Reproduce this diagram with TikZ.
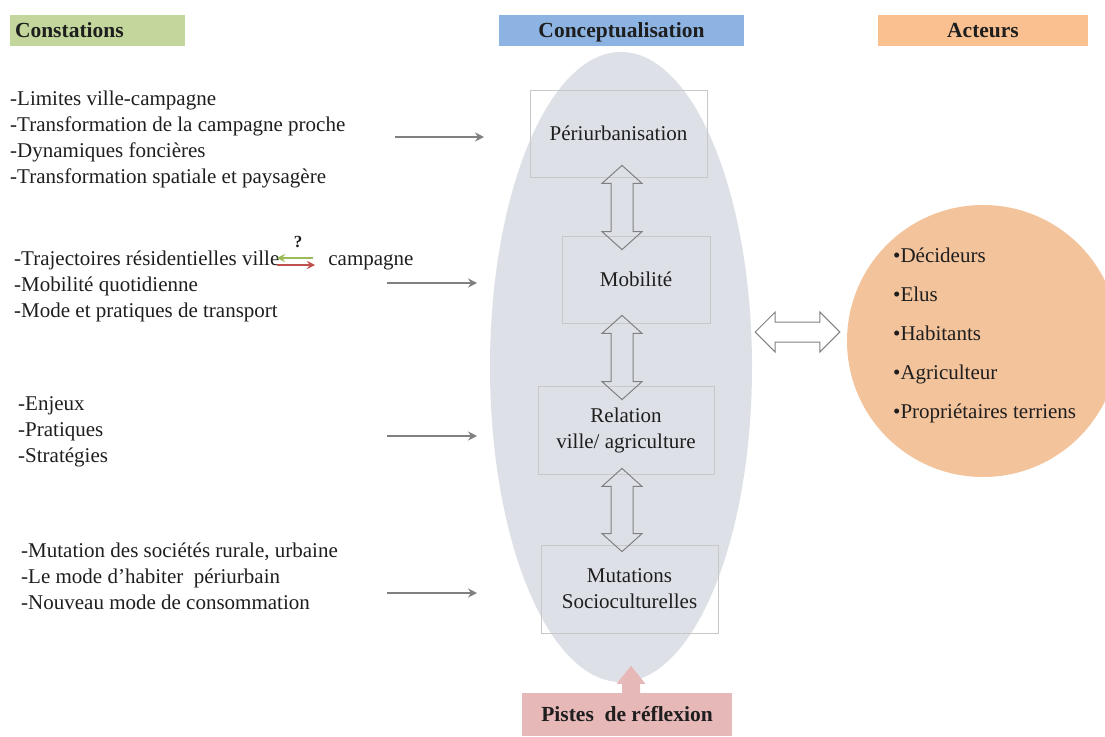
\documentclass[tikz,border=0pt]{standalone}
\usepackage{fontspec}
\setmainfont{Liberation Serif}
\usetikzlibrary{calc,arrows.meta,shapes.geometric}

\definecolor{hdrgreen}{HTML}{C3D69B}
\definecolor{hdrblue}{HTML}{8DB3E2}
\definecolor{hdrorange}{HTML}{FAC08F}
\definecolor{actfill}{HTML}{F3C39C}
\definecolor{ellfill}{HTML}{DDE1E7}
\definecolor{pistesfill}{HTML}{E6B8B7}
\definecolor{boxgrey}{HTML}{C8C8C8}
\definecolor{arrowgrey}{HTML}{808080}
\definecolor{inkc}{HTML}{1E1E1E}
\definecolor{lightgreen}{HTML}{9BBB59}
\definecolor{lightred}{HTML}{C0504D}

% hollow two-headed block arrow, vertical, between two coordinates (top, bottom)
\newcommand{\vblockarrow}[2]{%
  \draw[blockarrow] let \p1=(#1), \p2=(#2) in
    (\x1,\y1) -- (\x1+20pt,\y1-18pt) -- (\x1+11pt,\y1-18pt)
    -- (\x1+11pt,\y2+18pt) -- (\x1+20pt,\y2+18pt) -- (\x1,\y2)
    -- (\x1-20pt,\y2+18pt) -- (\x1-11pt,\y2+18pt)
    -- (\x1-11pt,\y1-18pt) -- (\x1-20pt,\y1-18pt) -- cycle;}
% hollow two-headed block arrow, horizontal, between two coordinates (left, right)
\newcommand{\hblockarrow}[2]{%
  \draw[blockarrow, fill=white] let \p1=(#1), \p2=(#2) in
    (\x1,\y1) -- (\x1+20pt,\y1+20pt) -- (\x1+20pt,\y1+10pt)
    -- (\x2-20pt,\y1+10pt) -- (\x2-20pt,\y1+20pt) -- (\x2,\y1)
    -- (\x2-20pt,\y1-20pt) -- (\x2-20pt,\y1-10pt)
    -- (\x1+20pt,\y1-10pt) -- (\x1+20pt,\y1-20pt) -- cycle;}

\begin{document}
\begin{tikzpicture}[x=1pt,y=-1pt,
  txt/.style={font=\fontsize{21}{26}\selectfont, text=inkc, inner sep=0pt},
  header/.style={font=\fontsize{21.5}{24}\selectfont\bfseries, text=inkc,
    minimum height=31pt, inner sep=0pt, text height=15pt, text depth=2pt},
  conceptbox/.style={draw=boxgrey, line width=0.8pt, txt, align=center},
  linkarrow/.style={draw=arrowgrey, line width=2.2pt, -{Stealth[length=9pt,width=9pt]}},
  smallarrow/.style={line width=2.2pt, -{Stealth[length=8pt,width=8pt]}},
  blockarrow/.style={draw=arrowgrey, line width=1pt, line join=miter},
]
\useasboundingbox (0,0) rectangle (1105,736);

% column headers
\node[header, fill=hdrgreen, minimum width=175pt, text width=165pt, align=left]
  (hconst) at (97.5,30.5) {Constations};
\node[header, fill=hdrblue, minimum width=245pt] (hconcept) at (621.5,30.5) {Conceptualisation};
\node[header, fill=hdrorange, minimum width=210pt] (hact) at (983,30.5) {Acteurs};

% conceptual frame
\node[ellipse, fill=ellfill, minimum width=262pt, minimum height=630pt, inner sep=0pt]
  (concept) at (621,367) {};

\node[conceptbox, minimum width=177pt, minimum height=87pt] (peri) at (618.5,133.5) {Périurbanisation};
\node[conceptbox, minimum width=148pt, minimum height=87pt] (mob) at (636,279.5) {Mobilité};
\node[conceptbox, minimum width=176pt, minimum height=88pt] (rel) at (626,430) {Relation\\ville/ agriculture};
\node[conceptbox, minimum width=177pt, minimum height=88pt] (mut) at (629.5,589) {Mutations\\Socioculturelles};

\coordinate (a1t) at ($(peri.south -| concept.center)+(1,-12)$);
\coordinate (a1b) at ($(mob.north -| concept.center)+(1,14)$);
\coordinate (a2t) at ($(mob.south -| concept.center)+(1,-8)$);
\coordinate (a2b) at ($(rel.north -| concept.center)+(1,14)$);
\coordinate (a3t) at ($(rel.south -| concept.center)+(1,-6)$);
\coordinate (a3b) at ($(mut.north -| concept.center)+(1,7)$);
\vblockarrow{a1t}{a1b}
\vblockarrow{a2t}{a2b}
\vblockarrow{a3t}{a3b}

% actors
\node[circle, fill=actfill, minimum size=272pt, inner sep=0pt] (actors) at (983,341) {};
\node[txt, font=\fontsize{21}{39}\selectfont, align=left, anchor=west] (actlist) at (893,335)
  {•Décideurs\\•Elus\\•Habitants\\•Agriculteur\\•Propriétaires terriens};

\coordinate (hl) at ($(concept.east)+(3,-35)$);
\coordinate (hr) at ($(actors.west)+(-7,-9)$);
\hblockarrow{hl}{hr}

% observations
\node[txt, align=left, anchor=west] (c1) at (10,139)
  {-Limites ville-campagne\\-Transformation de la campagne proche\\-Dynamiques foncières\\-Transformation spatiale et paysagère};
\node[txt, align=left, anchor=west] (c2) at (14,286)
  {-Trajectoires résidentielles ville\hspace*{49pt}campagne\\-Mobilité quotidienne\\-Mode et pratiques de transport};
\node[txt, align=left, anchor=west] (c3) at (18,432)
  {-Enjeux\\-Pratiques\\-Stratégies};
\node[txt, align=left, anchor=west] (c4) at (21,576)
  {-Mutation des sociétés rurale, urbaine\\-Le mode d’habiter\ \ périurbain\\-Nouveau mode de consommation};

% ville <-> campagne
\coordinate (vc1) at (313,258);
\coordinate (vc2) at (277,258);
\coordinate (vc3) at (277,265);
\coordinate (vc4) at (315,265);
\draw[smallarrow, lightgreen] (vc1) -- (vc2);
\draw[smallarrow, lightred] (vc3) -- (vc4);
\node[txt, font=\fontsize{17}{18}\selectfont\bfseries] (qmark) at (298,242) {?};

% links to the concepts
\coordinate (l1s) at (395,137); \coordinate (l1e) at (484,137);
\coordinate (l2s) at (387,283); \coordinate (l2e) at (477,283);
\coordinate (l3s) at (387,436); \coordinate (l3e) at (477,436);
\coordinate (l4s) at (387,593); \coordinate (l4e) at (477,593);
\draw[linkarrow] (l1s) -- (l1e);
\draw[linkarrow] (l2s) -- (l2e);
\draw[linkarrow] (l3s) -- (l3e);
\draw[linkarrow] (l4s) -- (l4e);

% research directions
\node[header, fill=pistesfill, minimum width=210pt, minimum height=43pt] (pistes) at (627,714.5)
  {Pistes\ \ de réflexion};
\fill[pistesfill] let \p1=($(pistes.north)+(4,0)$) in
  (\x1-9pt,\y1-1pt) -- (\x1-9pt,\y1+9pt) -- (\x1-14.5pt,\y1+9pt) -- (\x1,\y1+27pt)
  -- (\x1+14.5pt,\y1+9pt) -- (\x1+9pt,\y1+9pt) -- (\x1+9pt,\y1-1pt) -- cycle;
\end{tikzpicture}
\end{document}
